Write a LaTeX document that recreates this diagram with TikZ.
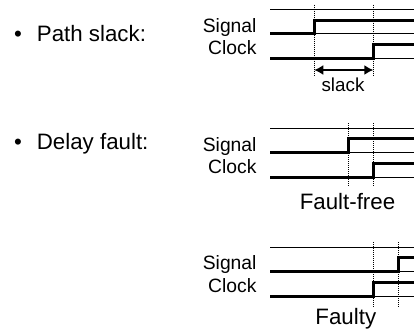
\documentclass[tikz,border=0pt]{standalone}
\usepackage{fontspec}
\setmainfont{Liberation Sans}
\usetikzlibrary{arrows.meta}

% One timing panel: top rail at #1, signal edge at #2, clock edge at #3,
% dotted markers reaching down to #4
\newcommand\timingpanel[4]{%
  \draw[rail] (270,#1) -- (414,#1);
  \draw[rail] (270,#1+24) -- (414,#1+24);
  \draw[rail] (270,#1+49) -- (414,#1+49);
  \draw[wave] (270,#1+24) -- (#2,#1+24) -- (#2,#1+10.5) -- (414,#1+10.5);
  \draw[wave] (270,#1+49) -- (#3,#1+49) -- (#3,#1+35) -- (414,#1+35);
  \draw[marker] (#2,#1-5) -- (#2,#4);
  \draw[marker] (#3,#1-5) -- (#3,#4);
  \node[lbl,anchor=base east] at (256.7,#1+22.8) {Signal};
  \node[lbl,anchor=base east] at (256.7,#1+45.3) {Clock};
}

\begin{document}
\begin{tikzpicture}[x=1pt,y=-1pt,
  rail/.style={line width=1pt},
  wave/.style={line width=3pt,line join=miter},
  marker/.style={line width=1pt,dash pattern=on 1pt off 1pt},
  lbl/.style={inner sep=0pt,font=\fontsize{19.3}{19.3}\selectfont},
  head/.style={inner sep=0pt,font=\fontsize{22.3}{22.3}\selectfont},
  span/.style={line width=1.5pt,{Latex[length=9pt,width=10pt]}-{Latex[length=9pt,width=10pt]}}]
  \useasboundingbox (0,0) rectangle (414,330);

  % bullet items
  \node[head,anchor=base west] (ps) at (36.7,41.7) {\llap{•\hspace{15pt}}Path slack:};
  \node[head,anchor=base west] (df) at (36.7,149.3) {\llap{•\hspace{15pt}}Delay fault:};

  % path slack
  \timingpanel{9.6}{314.3}{373.3}{75}
  \coordinate (s1) at (314.3,70);
  \coordinate (s2) at (373.3,70);
  \draw[span] (s1) -- (s2);
  \node[inner sep=0pt,anchor=base,font=\fontsize{18.8}{18.8}\selectfont] (sl) at (343,91.7) {slack};

  % fault-free case
  \timingpanel{128.3}{348.8}{373.3}{186.7}
  \node[head,anchor=base] (ff) at (347.5,209) {Fault-free};

  % faulty case
  \timingpanel{247}{398.5}{373.3}{306.7}
  \node[head,anchor=base] (fy) at (345.8,324) {Faulty};
\end{tikzpicture}
\end{document}
